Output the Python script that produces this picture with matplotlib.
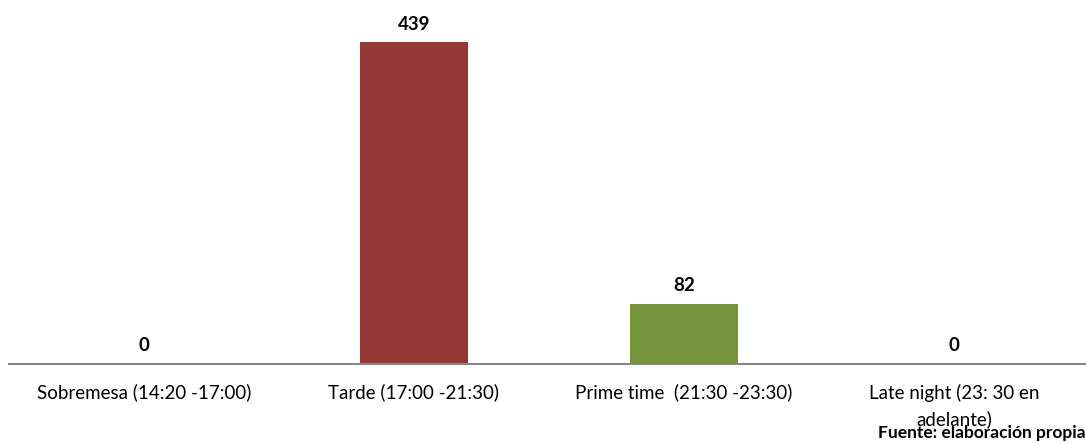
import matplotlib
matplotlib.use("Agg")
import matplotlib.pyplot as plt

categories = ["Sobremesa (14:20 -17:00)", "Tarde (17:00 -21:30)",
              "Prime time  (21:30 -23:30)", "Late night (23: 30 en\nadelante)"]
values = [0, 439, 82, 0]
colors = ["#4F81BD", "#953735", "#77933C", "#7F6084"]

plt.rcParams["font.family"] = ["Lato", "DejaVu Sans"]

fig = plt.figure(figsize=(10.86, 4.43), dpi=100)
ax = fig.add_axes([9 / 1086, (443 - 364) / 443, 1080 / 1086, 364 / 443])

x = range(len(categories))
ax.bar(x, values, width=0.4, color=colors, zorder=2)
ax.set_xlim(-0.5, len(categories) - 0.5)
ax.set_ylim(0, 497)

for xi, v in zip(x, values):
    ax.annotate(f"{v}", (xi, v), xytext=(0, 7), textcoords="offset points",
                ha="center", va="bottom", fontsize=13.5, fontweight="bold")

ax.set_xticks(list(x))
ax.set_xticklabels(categories, fontsize=13.5, linespacing=1.6, va="top")
ax.tick_params(axis="x", length=0, pad=14)
ax.set_yticks([])
for s in ["top", "right", "left"]:
    ax.spines[s].set_visible(False)
ax.spines["bottom"].set_color("#868686")
ax.spines["bottom"].set_linewidth(1.5)

fig.text(1.0, 10 / 443, "Fuente: elaboración propia", ha="right",
         va="center", fontsize=12.5, fontweight="bold")

fig.savefig("out.png", dpi=100)
